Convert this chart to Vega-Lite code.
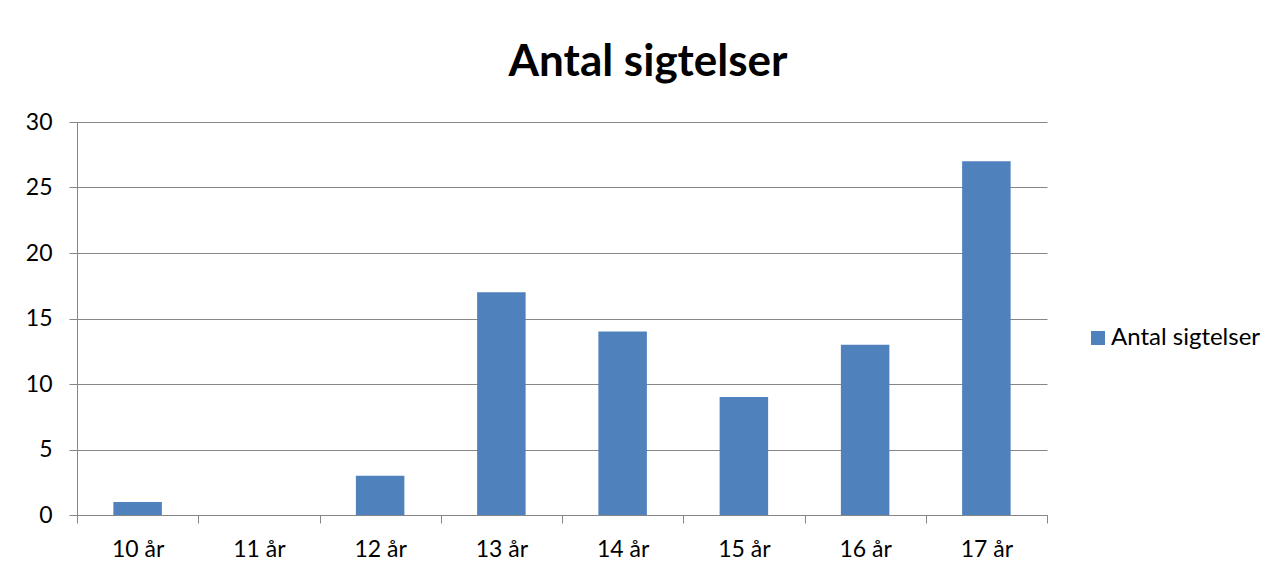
{
  "$schema": "https://vega.github.io/schema/vega-lite/v6.json",
  "width": 970,
  "height": 393,
  "autosize": {"type": "none"},
  "padding": {"left": 77, "top": 122, "right": 232, "bottom": 58},
  "background": "white",
  "title": {
    "text": "Antal sigtelser",
    "font": "Lato",
    "fontSize": 44,
    "fontWeight": "bold",
    "color": "black",
    "anchor": "middle",
    "dx": 86,
    "offset": 26
  },
  "data": {
    "values": [
      {"alder": "10 år", "antal": 1, "serie": "Antal sigtelser"},
      {"alder": "11 år", "antal": 0, "serie": "Antal sigtelser"},
      {"alder": "12 år", "antal": 3, "serie": "Antal sigtelser"},
      {"alder": "13 år", "antal": 17, "serie": "Antal sigtelser"},
      {"alder": "14 år", "antal": 14, "serie": "Antal sigtelser"},
      {"alder": "15 år", "antal": 9, "serie": "Antal sigtelser"},
      {"alder": "16 år", "antal": 13, "serie": "Antal sigtelser"},
      {"alder": "17 år", "antal": 27, "serie": "Antal sigtelser"}
    ]
  },
  "mark": {"type": "bar", "width": {"band": 0.4}},
  "encoding": {
    "x": {
      "field": "alder",
      "type": "nominal",
      "sort": null,
      "scale": {"paddingInner": 0, "paddingOuter": 0},
      "axis": {
        "title": null,
        "labelAngle": 0,
        "tickBand": "extent",
        "grid": false,
        "domainColor": "#868686",
        "tickColor": "#868686",
        "tickSize": 8,
        "labelPadding": 15,
        "labelFont": "Lato",
        "labelFontSize": 23,
        "labelColor": "black"
      }
    },
    "y": {
      "field": "antal",
      "type": "quantitative",
      "scale": {"domain": [0, 30]},
      "axis": {
        "title": null,
        "values": [0, 5, 10, 15, 20, 25, 30],
        "grid": true,
        "gridColor": "#868686",
        "domainColor": "#868686",
        "tickColor": "#868686",
        "tickSize": 8,
        "labelPadding": 17,
        "labelFont": "Lato",
        "labelFontSize": 23,
        "labelColor": "black"
      }
    },
    "color": {
      "field": "serie",
      "type": "nominal",
      "scale": {"range": ["#4F81BD"]},
      "legend": {
        "title": null,
        "orient": "none",
        "legendX": 1009,
        "legendY": 204,
        "symbolType": "square",
        "symbolSize": 196,
        "symbolStrokeWidth": 0,
        "symbolOpacity": 1,
        "labelFont": "Lato",
        "labelFontSize": 24,
        "labelColor": "black",
        "labelOffset": 1,
        "padding": 0
      }
    }
  },
  "config": {
    "view": {"stroke": null}
  }
}
